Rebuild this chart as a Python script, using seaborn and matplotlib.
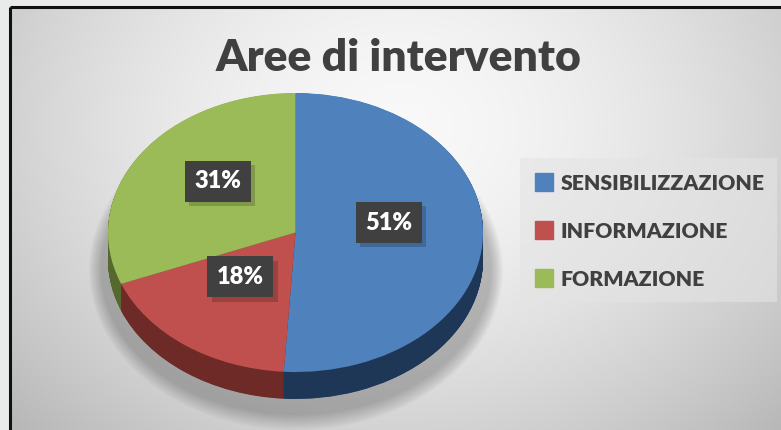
import numpy as np
import matplotlib
matplotlib.use("Agg")
import matplotlib.pyplot as plt
from matplotlib.patches import Rectangle, Ellipse
import matplotlib.patheffects as pe
import seaborn as sns

categories = ["SENSIBILIZZAZIONE", "INFORMAZIONE", "FORMAZIONE"]
values = [51, 18, 31]
title = "Aree di intervento"

top_colors = ["#4F81BD", "#C0504D", "#9BBB59"]
side_colors = ["#1F3756", "#6E2A26", "#55692F"]

sns.set_theme(style="white")
plt.rcParams["font.family"] = ["Lato", "DejaVu Sans"]

W, H = 781, 430
fig = plt.figure(figsize=(W / 100, H / 100), dpi=100)

# background
bg = fig.add_axes([0, 0, 1, 1])
bg.set_xlim(0, W)
bg.set_ylim(H, 0)
bg.axis("off")
bg.add_patch(Rectangle((0, 0), W, H, color="#e9eaea", zorder=0))
yy, xx = np.mgrid[0:H, 0:W]
r = np.sqrt(((xx - 390) / 520.0) ** 2 + ((yy - 120) / 420.0) ** 2)
grad = np.clip(0.975 - 0.24 * r ** 1.6, 0.72, 1.0)
img = np.dstack([grad, grad, grad])
bg.imshow(img, extent=(10, W + 10, H, 7), zorder=1, aspect="auto",
          interpolation="bilinear")
bg.set_xlim(0, W)
bg.set_ylim(H, 0)
bg.plot([10, 10], [7, H], color="#111111", lw=2.2, zorder=3, solid_capstyle="butt")
bg.plot([10, W], [7, 7], color="#111111", lw=2.2, zorder=3, solid_capstyle="butt")
# legend panel
bg.add_patch(Rectangle((520, 158), 257, 144, color="#e4e4e4", alpha=0.6, zorder=2, lw=0))

# pie shadow
for k, a in enumerate(np.linspace(0.0, 1.0, 12)):
    bg.add_patch(Ellipse((296, 262 + 8), 390 + 24 * (1 - a), 290 + 30 * (1 - a),
                         color="#000000", alpha=0.018, zorder=2, lw=0))

# pie
depth_px = 27
rx_px, ry_px = 187.5, 139.5
d = depth_px / ry_px
top_px = 93
cx_px = 295.5
ax = fig.add_axes([(cx_px - rx_px) / W, (H - (top_px + 2 * ry_px + depth_px)) / H,
                   2 * rx_px / W, (2 * ry_px + depth_px) / H])
ax.axis("off")
for t in np.linspace(d, 0.0, 70)[:-1]:
    ax.pie(values, colors=side_colors, startangle=90, counterclock=False,
           center=(0, -t), radius=1, wedgeprops=dict(linewidth=0, antialiased=True))
wedges, texts, autotexts = ax.pie(
    values, colors=top_colors, startangle=90, counterclock=False,
    center=(0, 0), radius=1, autopct=lambda p: f"{p:.0f}%", pctdistance=0.5,
    wedgeprops=dict(linewidth=0),
    textprops=dict(color="white", fontsize=17, fontweight="heavy"))
for at in autotexts:
    x, y = at.get_position()
    at.set_position((x, y + 12 / ry_px))
    at.set_bbox(dict(boxstyle="square,pad=0.4", facecolor="#404040",
                     edgecolor="none"))
    at.get_bbox_patch().set_path_effects(
        [pe.SimplePatchShadow(offset=(3, -3), shadow_rgbFace="#000000", alpha=0.18),
         pe.Normal()])
    at.set_zorder(10)
ax.set_aspect("auto")
ax.set_xlim(-1, 1)
ax.set_ylim(-1 - d, 1)

# title
fig.text(399 / W, 1 - 58 / H, title, ha="center", va="center",
         fontsize=32, fontweight="heavy", color="#404040")

# legend
for i, (cat, col) in enumerate(zip(categories, top_colors)):
    yc = 182 + 48 * i
    bg.add_patch(Rectangle((535, yc - 9), 18, 18, color=col, zorder=4))
    bg.text(561, yc, cat, ha="left", va="center_baseline", fontsize=15.3,
            fontweight="heavy", color="#404040", zorder=4)

fig.savefig("out.png", dpi=100)
